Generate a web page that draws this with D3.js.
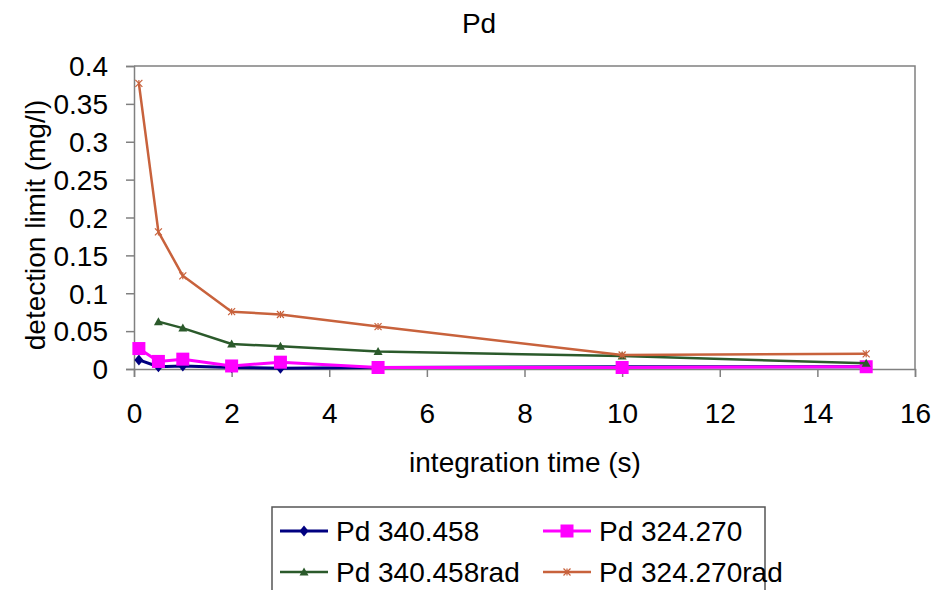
<!DOCTYPE html>
<html><head><meta charset="utf-8">
<script src="https://cdn.jsdelivr.net/npm/d3@7"></script>
<style>body{margin:0;background:#fff;} text{font-family:"Liberation Sans",Arial,sans-serif;fill:#000;}</style>
</head><body>
<svg id="c" width="942" height="590"></svg>
<script>
const times = [0.1, 0.5, 1, 2, 3, 5, 10, 15];
const pd340 = [0.012, 0.003, 0.004, 0.002, 0.001, 0.002, 0.003, 0.003];
const pd324 = [0.027, 0.010, 0.013, 0.004, 0.009, 0.002, 0.002, 0.003];
const timesRad340 = [0.5, 1, 2, 3, 5, 10, 15];
const pd340rad = [0.0625, 0.054, 0.033, 0.030, 0.023, 0.017, 0.0075];
const pd324rad = [0.377, 0.181, 0.123, 0.0757, 0.072, 0.056, 0.0185, 0.020];
const xTicks = [0, 2, 4, 6, 8, 10, 12, 14, 16];
const yTicks = [0, 0.05, 0.1, 0.15, 0.2, 0.25, 0.3, 0.35, 0.4];
const seriesNames = ["Pd 340.458", "Pd 324.270", "Pd 340.458rad", "Pd 324.270rad"];

const svg = d3.select("#c");
const x = d3.scaleLinear().domain([0, 16]).range([134, 915]);
const y = d3.scaleLinear().domain([0, 0.4]).range([369, 66]);
const FS = 28;

// plot border (top, right)
svg.append("path").attr("d", `M${x(0)},${y(0.4)}H${x(16)}V${y(0)}`)
  .attr("fill", "none").attr("stroke", "#808080").attr("stroke-width", 1.5);

const xAxis = svg.append("g").attr("transform", `translate(0,${y(0)})`)
  .call(d3.axisBottom(x).tickValues(xTicks).tickSize(8).tickPadding(26).tickFormat(d3.format("d")));
const yAxis = svg.append("g").attr("transform", `translate(${x(0)},0)`)
  .call(d3.axisLeft(y).tickValues(yTicks).tickSize(8).tickPadding(18).tickFormat(d => d === 0 ? "0" : String(+d.toFixed(2))));
[xAxis, yAxis].forEach(g => {
  g.selectAll("path,line").attr("stroke", "#808080").attr("stroke-width", 1.5);
  g.selectAll("text").attr("font-size", FS).attr("font-family", "Liberation Sans, Arial, sans-serif").attr("fill", "#222");
});
yAxis.selectAll("text").attr("dy", "0.35em");

svg.append("text").attr("x", 479).attr("y", 33).attr("text-anchor", "middle").attr("font-size", FS).text("Pd");
svg.append("text").attr("x", 525).attr("y", 472).attr("text-anchor", "middle").attr("font-size", FS).text("integration time (s)");
svg.append("text").attr("transform", "translate(45,225) rotate(-90)").attr("text-anchor", "middle").attr("font-size", FS).text("detection limit (mg/l)");

const styles = [
  {color: "#000080", marker: "diamond", size: 9, w: 3},
  {color: "#FF00FF", marker: "square", size: 13, w: 3},
  {color: "#2B5A2B", marker: "triangle", size: 9, w: 2.5},
  {color: "#C8623C", marker: "cross", size: 7, w: 2.5}
];
const data = [
  times.map((t, i) => [t, pd340[i]]),
  times.map((t, i) => [t, pd324[i]]),
  timesRad340.map((t, i) => [t, pd340rad[i]]),
  times.map((t, i) => [t, pd324rad[i]])
];

function drawMarker(g, st, cx, cy) {
  const s = st.size;
  if (st.marker === "diamond") {
    g.append("path").attr("d", `M${cx},${cy - s/2 - 1}L${cx + s/2},${cy}L${cx},${cy + s/2 + 1}L${cx - s/2},${cy}Z`).attr("fill", st.color);
  } else if (st.marker === "square") {
    g.append("rect").attr("x", cx - s/2).attr("y", cy - s/2).attr("width", s).attr("height", s).attr("fill", st.color);
  } else if (st.marker === "triangle") {
    g.append("path").attr("d", `M${cx},${cy - s/2}L${cx + s/2},${cy + s/2 - 1}L${cx - s/2},${cy + s/2 - 1}Z`).attr("fill", st.color);
  } else {
    g.append("path").attr("d", `M${cx - s/2},${cy - s/2}L${cx + s/2},${cy + s/2}M${cx + s/2},${cy - s/2}L${cx - s/2},${cy + s/2}M${cx},${cy - s/2}V${cy + s/2}`)
      .attr("stroke", st.color).attr("stroke-width", 1.2).attr("fill", "none");
  }
}

const line = d3.line().x(d => x(d[0])).y(d => y(d[1]));
data.forEach((ser, k) => {
  const st = styles[k];
  const g = svg.append("g");
  g.append("path").datum(ser).attr("d", line).attr("fill", "none").attr("stroke", st.color).attr("stroke-width", st.w).attr("stroke-linejoin", "round");
  ser.forEach(d => drawMarker(g, st, x(d[0]), y(d[1])));
});

// legend
const lg = svg.append("g");
lg.append("rect").attr("x", 272).attr("y", 507).attr("width", 493).attr("height", 100)
  .attr("fill", "#fff").attr("stroke", "#555").attr("stroke-width", 1.5);
const pos = [[280, 531], [543, 531], [280, 572], [543, 572]];
seriesNames.forEach((nm, k) => {
  const st = styles[k];
  const [lx, ly] = pos[k];
  lg.append("line").attr("x1", lx).attr("x2", lx + 48).attr("y1", ly).attr("y2", ly).attr("stroke", st.color).attr("stroke-width", st.w);
  drawMarker(lg, st, lx + 24, ly);
  lg.append("text").attr("x", lx + 56).attr("y", ly).attr("dy", "0.35em").attr("font-size", FS).attr("fill", "#222").text(nm);
});
</script>
</body></html>
